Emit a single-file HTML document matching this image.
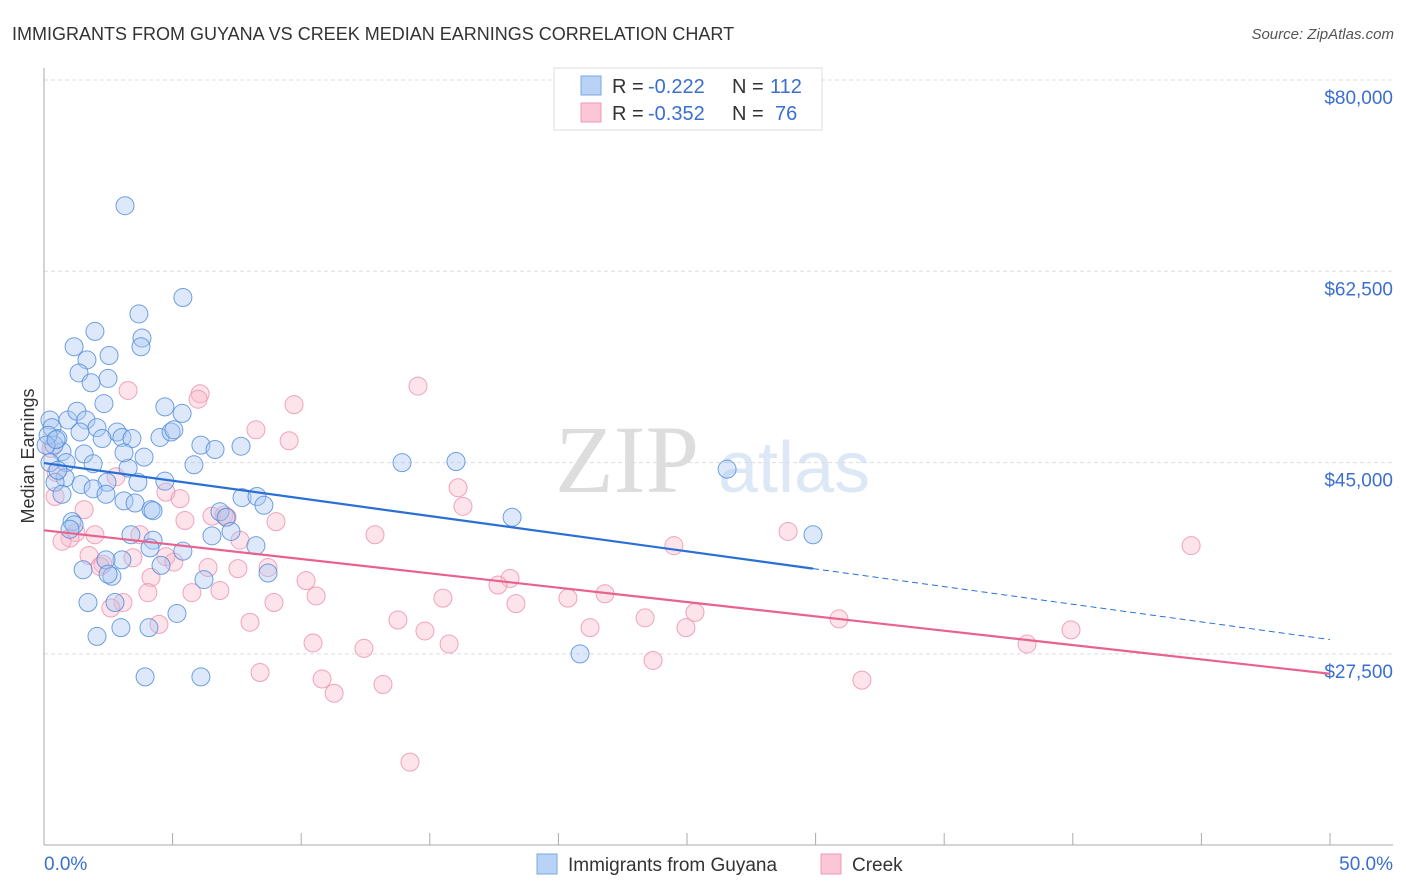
<!DOCTYPE html>
<html><head><meta charset="utf-8"><style>
body{margin:0;background:#fff;font-family:"Liberation Sans",sans-serif;}
svg{display:block}
</style></head><body>
<svg id="chart" width="1406" height="892">
<text x="12" y="40" font-size="18" fill="#333">IMMIGRANTS FROM GUYANA VS CREEK MEDIAN EARNINGS CORRELATION CHART</text>
<text x="1394" y="39" font-size="15" fill="#555" font-style="italic" text-anchor="end">Source: ZipAtlas.com</text>
<text x="34" y="456" font-size="18" fill="#333" text-anchor="middle" transform="rotate(-90 34 456)">Median Earnings</text>
<text x="555" y="492" font-size="96" fill="#ddd" font-family="Liberation Serif,serif">ZIP</text>
<text x="718" y="492" font-size="72" fill="#dce8f6">atlas</text>
<g id="grid"></g><g id="axes"></g><g id="pts"></g><g id="trend"></g>
<g>
<rect x="554" y="68" width="268" height="62" fill="#fff" stroke="#ddd"/>
<rect x="581" y="76" width="20" height="19" fill="#b8d3f5" stroke="#7aa8e6"/>
<rect x="581" y="103" width="20" height="19" fill="#fbc7d6" stroke="#ef9ab4"/>
<text x="612" y="93" font-size="20" fill="#333">R =</text>
<text x="648" y="93" font-size="20" fill="#3a6fd0">-0.222</text>
<text x="732" y="93" font-size="20" fill="#333">N =</text>
<text x="770" y="93" font-size="20" fill="#3a6fd0">112</text>
<text x="612" y="120" font-size="20" fill="#333">R =</text>
<text x="648" y="120" font-size="20" fill="#3a6fd0">-0.352</text>
<text x="732" y="120" font-size="20" fill="#333">N =</text>
<text x="775" y="120" font-size="20" fill="#3a6fd0">76</text>
</g>
<g>
<rect x="537" y="854" width="20" height="20" fill="#b8d3f5" stroke="#7aa8e6"/>
<text x="568" y="871" font-size="19" fill="#333">Immigrants from Guyana</text>
<rect x="821" y="854" width="20" height="20" fill="#fbc7d6" stroke="#ef9ab4"/>
<text x="852" y="871" font-size="19" fill="#333">Creek</text>
</g>
</svg>
<script>
const yTicks=[80000,62500,45000,27500];
const yTickLabels=["$80,000","$62,500","$45,000","$27,500"];
const xTickLabels=["0.0%","50.0%"];
const guyanaX=[3.15,5.40,3.69,1.98,3.81,1.17,3.77,2.53,1.67,1.36,2.49,1.83,2.33,4.70,5.37,0.93,0.23,1.28,1.63,0.31,2.06,2.84,0.54,1.40,2.26,3.03,3.42,4.51,4.94,5.05,6.10,6.65,7.66,3.89,1.56,0.70,0.39,0.86,1.91,3.27,3.11,5.83,13.92,16.02,26.56,0.82,0.43,2.45,4.70,3.65,1.44,1.91,0.70,2.41,3.11,3.54,4.16,4.24,7.70,8.28,8.55,18.20,29.90,1.09,1.17,1.01,3.38,6.84,7.08,7.27,6.53,4.24,4.12,5.40,8.24,3.03,2.41,1.52,2.64,2.49,4.55,6.22,8.71,1.71,2.76,5.17,2.06,2.99,4.08,20.84,3.93,6.10,0.16,0.08,0.47,0.23,0.54];
const guyanaY=[68.5,60.1,58.6,57.0,56.4,55.6,55.6,54.8,54.4,53.2,52.7,52.3,50.4,50.1,49.5,48.9,48.9,49.7,48.9,48.2,48.2,47.8,47.2,47.8,47.2,47.3,47.2,47.3,47.8,48.0,46.6,46.2,46.5,45.5,45.8,46.0,46.6,45.0,44.9,44.5,45.9,44.8,45.0,45.1,44.4,43.6,43.2,43.2,43.3,43.2,43.0,42.6,42.1,42.1,41.5,41.3,40.7,40.6,41.8,41.9,41.1,40.0,38.4,39.6,39.3,38.9,38.4,40.5,40.0,38.7,38.3,37.9,37.2,36.9,37.4,36.1,36.1,35.2,34.6,34.8,35.6,34.3,34.9,32.2,32.2,31.2,29.1,29.9,29.9,27.5,25.4,25.4,47.5,46.6,47.1,45.0,44.3];
const creekX=[3.27,6.07,14.54,5.99,9.72,8.24,9.53,0.27,0.47,16.10,4.74,5.29,16.29,0.43,1.56,2.80,6.53,7.00,7.12,5.48,9.02,3.73,1.24,1.98,7.62,12.87,1.01,0.70,28.93,24.49,44.60,1.75,4.74,3.46,2.29,2.18,5.05,6.38,7.54,8.71,4.16,10.19,18.12,17.65,4.04,5.75,6.84,10.58,15.51,3.07,2.60,8.94,18.35,20.37,21.81,25.31,13.76,23.37,30.91,8.01,21.23,24.96,39.93,4.47,14.81,10.46,12.44,15.75,38.22,23.68,8.40,10.81,11.28,13.18,31.80,14.23];
const creekY=[51.6,51.3,52.0,50.8,50.3,48.0,47.0,46.3,44.1,42.7,42.3,41.7,41.0,41.9,40.7,43.7,40.1,40.2,40.0,39.7,39.6,38.4,38.6,38.4,37.9,38.4,38.1,37.8,38.7,37.4,37.4,36.5,36.4,36.3,35.7,35.5,35.9,35.4,35.3,35.4,34.5,34.2,34.4,33.8,33.1,33.1,33.3,32.8,32.6,32.2,31.7,32.2,32.1,32.6,33.0,31.3,30.6,30.8,30.7,30.4,29.9,29.9,29.7,30.2,29.6,28.5,28.0,28.4,28.4,26.9,25.8,25.2,23.9,24.7,25.1,17.6];
const NS="http://www.w3.org/2000/svg";
const X0=44,X1=1330,Y80=80,PX=191.3/17500;
const sx=p=>X0+(X1-X0)*p/50;
const sy=v=>Y80+(80000-v)*PX;
function mk(tag,attrs,parent){const e=document.createElementNS(NS,tag);for(const k in attrs)e.setAttribute(k,attrs[k]);document.getElementById(parent).appendChild(e);return e;}
yTicks.forEach((v,i)=>{
 const l=mk('line',{x1:X0,x2:1393,y1:sy(v),y2:sy(v),stroke:'#ddd','stroke-dasharray':'4,3'},'grid');
 
 
 const t=mk('text',{x:1393,y:sy(v)+24,'font-size':19,fill:'#3a6fd0','text-anchor':'end'},'grid');
 t.textContent=yTickLabels[i];
 
 
});
let a=mk('line',{x1:X0,x2:X0,y1:68,y2:845,stroke:'#aaa'},'axes');


a=mk('line',{x1:X0,x2:1393,y1:845,y2:845,stroke:'#aaa'},'axes');


for(let i=0;i<=10;i++){const t=mk('line',{x1:sx(i*5),x2:sx(i*5),y1:833,y2:845,stroke:'#aaa'},'axes');
 
 }
[[0,'start',X0],[1,'end',1393]].forEach(([i,anc,x])=>{const t=mk('text',{x:x,y:870,'font-size':19,fill:'#3a6fd0','text-anchor':anc},'axes');t.textContent=xTickLabels[i];
 
 });
function pts(X,Y,fill,stroke,name){X.forEach((p,i)=>{const c=mk('circle',{cx:sx(p),cy:sy(Y[i]*1000),r:9,fill:fill,'fill-opacity':0.4,stroke:stroke,'stroke-opacity':0.8,'stroke-width':1},'pts');
 
 });}
pts(creekX,creekY,'#f9b8cb','#ec8fac','creek-point');
pts(guyanaX,guyanaY,'#a9c9f2','#4f8ad8','guyana-point');
function fit(X,Y){const n=X.length;let mx=0,my=0;X.forEach((x,i)=>{mx+=x;my+=Y[i];});mx/=n;my/=n;let sxy=0,sxx=0;X.forEach((x,i)=>{sxy+=(x-mx)*(Y[i]-my);sxx+=(x-mx)**2;});const b=sxy/sxx;return[my-b*mx,b];}
const [ga,gb]=fit(guyanaX,guyanaY),[ca,cb]=fit(creekX,creekY);
const gmax=Math.max(...guyanaX);
let l=mk('line',{x1:sx(0),y1:sy((ga)*1000),x2:sx(gmax),y2:sy((ga+gb*gmax)*1000),stroke:'#2a6fd6','stroke-width':2.2},'trend');


l=mk('line',{x1:sx(gmax),y1:sy((ga+gb*gmax)*1000),x2:sx(50),y2:sy((ga+gb*50)*1000),stroke:'#2a6fd6','stroke-width':1,'stroke-dasharray':'6,4'},'trend');


l=mk('line',{x1:sx(0),y1:sy(ca*1000),x2:sx(50),y2:sy((ca+cb*50)*1000),stroke:'#e8628e','stroke-width':2.2},'trend');


</script>
</body></html>
